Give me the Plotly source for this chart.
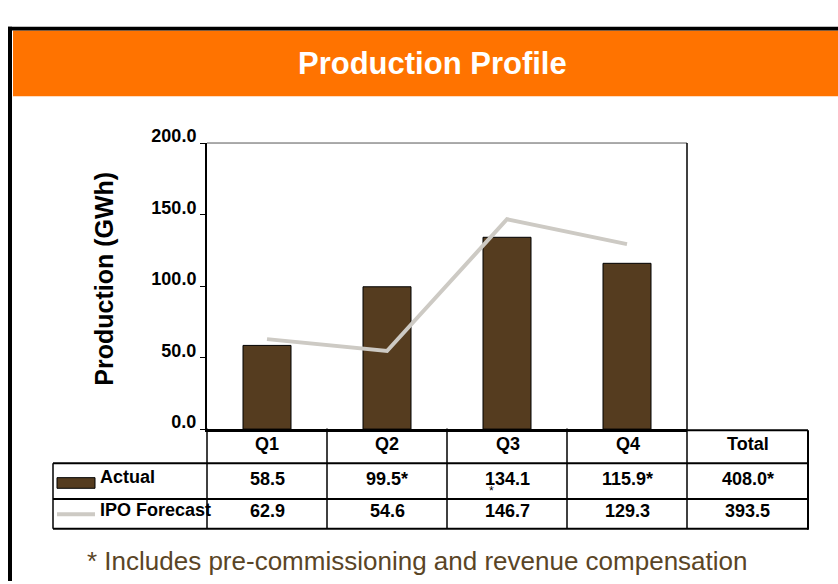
import plotly.graph_objects as go

# data
quarters = ["Q1", "Q2", "Q3", "Q4"]
columns = ["Q1", "Q2", "Q3", "Q4", "Total"]
actual = [58.5, 99.5, 134.1, 115.9]
forecast = [62.9, 54.6, 146.7, 129.3]
actual_text = ["58.5", "99.5*", "134.1", "115.9*", "408.0*"]
forecast_text = ["62.9", "54.6", "146.7", "129.3", "393.5"]
y_ticks = [0, 50, 100, 150, 200]

# reference picture size; all placements are fractions of it
W, H = 838, 584
BROWN = "#553c1f"
GREY = "#cdcac4"
ORANGE = "#ff7300"
FONT = "Liberation Sans, Arial, sans-serif"


def px(x):
    return x / W


def py(y):
    return 1 - y / H


fig = go.Figure()

fig.add_trace(go.Bar(
    x=quarters, y=actual, name="Actual",
    width=0.4,
    marker=dict(color=BROWN, line=dict(color="black", width=1)),
    hoverinfo="skip",
))
fig.add_trace(go.Scatter(
    x=quarters, y=forecast, name="IPO Forecast",
    mode="lines",
    line=dict(color=GREY, width=4),
    hoverinfo="skip",
))
# invisible trace so the table axis exists
fig.add_trace(go.Scatter(
    x=columns, y=[None] * len(columns), xaxis="x2", yaxis="y",
    mode="markers", showlegend=False, hoverinfo="skip",
))

shapes = []
# page frame + orange banner
shapes.append(dict(type="rect", xref="paper", yref="paper",
                   x0=px(13), x1=px(838), y0=py(82), y1=py(14),
                   fillcolor=ORANGE, line=dict(width=0), layer="below"))
shapes.append(dict(type="rect", xref="paper", yref="paper",
                   x0=px(8), x1=px(838), y0=py(14), y1=py(10),
                   fillcolor="black", line=dict(width=0)))
shapes.append(dict(type="rect", xref="paper", yref="paper",
                   x0=px(8), x1=px(12), y0=py(584), y1=py(10),
                   fillcolor="black", line=dict(width=0)))
# plot box top / right
shapes.append(dict(type="line", xref="paper", yref="paper",
                   x0=px(207), x1=px(687), y0=py(130.5), y1=py(130.5),
                   line=dict(color="#555555", width=1)))
shapes.append(dict(type="line", xref="paper", yref="paper",
                   x0=px(687), x1=px(687), y0=py(130.5), y1=py(530),
                   line=dict(color="black", width=1.5)))


def hline(x0, x1, y, w=2):
    shapes.append(dict(type="line", xref="paper", yref="paper",
                       x0=px(x0), x1=px(x1), y0=py(y), y1=py(y),
                       line=dict(color="black", width=w)))


def vline(x, y0, y1, w=1.5):
    shapes.append(dict(type="line", xref="paper", yref="paper",
                       x0=px(x), x1=px(x), y0=py(y0), y1=py(y1),
                       line=dict(color="black", width=w)))


# table grid
hline(687, 808, 428)
hline(53, 808, 462)
hline(53, 808, 499)
hline(53, 808, 530)
vline(53, 462, 530)
vline(207, 426, 530)
for xv in [327, 447, 567]:
    vline(xv, 426, 530)
vline(808, 428, 531, w=2)

# legend keys in the table
shapes.append(dict(type="rect", xref="paper", yref="paper",
                   x0=px(57), x1=px(95), y0=py(488), y1=py(477),
                   fillcolor=BROWN, line=dict(color="black", width=1)))
shapes.append(dict(type="line", xref="paper", yref="paper",
                   x0=px(57), x1=px(95), y0=py(515), y1=py(515),
                   line=dict(color=GREY, width=4)))


def note(text, x, y, size, color="black", xref="paper", xanchor="center", **kw):
    return dict(text=text, xref=xref, yref="paper", x=x, y=y,
                xanchor=xanchor, yanchor="middle", showarrow=False,
                font=dict(family=FONT, size=size, color=color), **kw)


ann = []
ann.append(note("<b>Production Profile</b>", px(432), py(48), 31, "white"))
ann.append(note("<b>Production (GWh)</b>", px(104), py(271), 25, textangle=-90))
ann.append(note("* Includes pre-commissioning and revenue compensation",
                px(417), py(563), 26, "#5a4526"))

for i, c in enumerate(columns):
    ann.append(note(f"<b>{c}</b>", c, py(442), 18, xref="x2"))
    ann.append(note(f"<b>{actual_text[i]}</b>", c, py(478), 18, xref="x2"))
    ann.append(note(f"<b>{forecast_text[i]}</b>", c, py(512), 18, xref="x2"))
ann.append(note("<b>Actual</b>", px(98), py(476), 18, xanchor="left"))
ann.append(note("<b>IPO Forecast</b>", px(98), py(510), 18, xanchor="left"))
# stray asterisk under the Q3 actual value
ann.append(note("*", px(491), py(491), 12))

fig.update_layout(
    autosize=True,
    margin=dict(l=0, r=0, t=0, b=0),
    paper_bgcolor="white",
    plot_bgcolor="rgba(0,0,0,0)",
    showlegend=False,
    shapes=shapes,
    annotations=ann,
    xaxis=dict(
        domain=[px(207), px(687)],
        type="category", range=[-0.5, 3.5],
        showticklabels=False, ticks="",
        showgrid=False, zeroline=False,
        showline=True, linecolor="black", linewidth=2.5,
    ),
    xaxis2=dict(
        domain=[px(207), px(808)],
        type="category", range=[-0.5, 4.5],
        categoryorder="array", categoryarray=columns,
        anchor="y", visible=False,
    ),
    yaxis=dict(
        domain=[py(426.7), py(130.5)],
        range=[0, 200],
        tickvals=y_ticks, tickformat=".1f",
        ticks="outside", ticklen=5, tickcolor="black", tickwidth=1,
        ticklabelshift=-7, ticklabelstandoff=0,
        tickfont=dict(family=FONT, size=18, color="black", weight="bold"),
        showgrid=False, zeroline=False,
        showline=True, linecolor="black", linewidth=2,
    ),
)

# fill the whole window, without the default 8px page margin
fig.write_html(
    "out.html",
    config={"displayModeBar": False},
    default_width="100vw",
    default_height="100vh",
    post_script="document.body.style.margin='0';"
                "document.documentElement.style.overflow='hidden';",
)
